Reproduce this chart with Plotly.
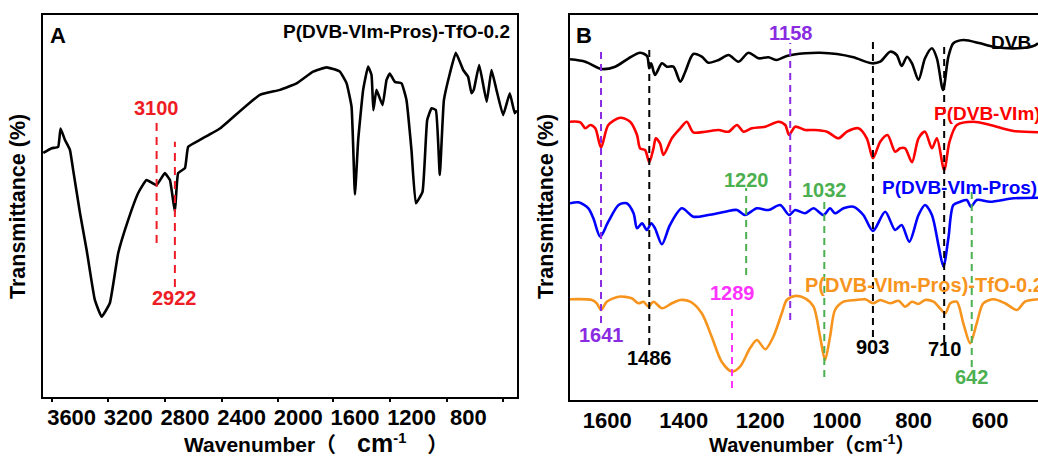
import plotly.graph_objects as go

# ---------------- Panel A data ----------------
A_wn = [3800, 3741, 3695, 3678, 3647, 3612, 3589, 3541, 3494, 3436,
        3388, 3330, 3271, 3201, 3130, 3071, 3000, 2942, 2906, 2871,
        2848, 2800, 2777, 2695, 2553, 2483, 2271, 2130, 2012, 1895,
        1800, 1707, 1659, 1624, 1600, 1577, 1542, 1507, 1483, 1470,
        1448, 1405, 1377, 1354, 1318, 1271, 1236, 1201, 1170, 1123,
        1090, 1059, 1029, 1001, 972, 930, 888, 836, 801, 777,
        761, 723, 670, 636, 601, 554, 507, 472, 456]
A_T = [63.9, 65.1, 65.5, 70.3, 67.3, 64.7, 59.4, 48.2, 38.5, 25.4,
       21.0, 24.6, 37.7, 46.3, 53.4, 56.8, 55.5, 58.6, 56.8, 48.5,
       58.6, 59.9, 65.5, 67.3, 70.3, 72.5, 79.1, 80.4, 82.1, 85.2,
       86.3, 85.2, 82.1, 76.0, 53.0, 67.3, 80.4, 86.5, 84.3, 75.1,
       80.4, 76.4, 83.0, 84.7, 82.5, 82.1, 77.7, 64.7, 50.7, 53.7,
       72.5, 75.6, 75.1, 58.1, 77.7, 84.7, 90.1, 85.6, 83.8, 79.5,
       80.4, 86.9, 77.3, 85.6, 80.4, 73.8, 79.5, 74.3, 75.0]

A_peak_text = ["3100", "2922"]
A_peak_pos = [3000, 2871]
A_peak_y0 = [40.3, 28.8]
A_peak_y1 = [73.0, 66.8]
A_peak_label_y = [75.7, 25.9]
A_ticks = [3600, 3200, 2800, 2400, 2000, 1600, 1200, 800]
A_tick_marks = [3741, 3343, 2941, 2538, 2143, 1755, 1353, 951, 556]

# ---------------- Panel B data ----------------
DVB_wn = [1697, 1657, 1614, 1579, 1544, 1514, 1496, 1490, 1485, 1475,
          1457, 1444, 1427, 1409, 1396, 1375, 1353, 1336, 1309, 1283,
          1257, 1231, 1205, 1179, 1157, 1131, 1083, 1044, 1000, 957,
          909, 887, 861, 844, 831, 817, 804, 787, 770, 752,
          739, 723, 709, 696, 670, 626, 591, 530, 487, 475]
DVB_T = [340.7, 338.3, 331.0, 333.3, 341.7, 347.3, 344.0, 331.7, 336.7, 325.0,
         336.7, 333.3, 333.3, 318.3, 328.3, 346.0, 343.3, 337.3, 340.0, 345.0,
         338.3, 347.3, 341.7, 342.7, 340.0, 344.0, 346.7, 347.3, 346.0, 342.7,
         336.7, 338.3, 348.3, 345.0, 334.0, 343.3, 336.7, 320.0, 341.7, 351.7,
         341.7, 310.0, 343.3, 356.7, 360.0, 356.7, 353.3, 351.7, 354.0, 356.7]

VIm_wn = [1697, 1670, 1657, 1644, 1631, 1616, 1597, 1566, 1540, 1522,
          1514, 1501, 1490, 1479, 1473, 1462, 1453, 1431, 1409, 1392,
          1375, 1344, 1309, 1283, 1261, 1244, 1222, 1187, 1153, 1135,
          1125, 1109, 1083, 1061, 1026, 996, 974, 944, 922, 906,
          887, 868, 848, 835, 822, 804, 787, 770, 752, 739,
          720, 706, 687, 644, 600, 539, 475]
VIm_T = [278.3, 277.7, 271.7, 275.0, 271.7, 252.3, 275.0, 282.3, 278.3, 265.0,
         251.7, 250.0, 237.7, 251.7, 261.7, 256.7, 245.0, 261.7, 271.7, 278.3,
         267.7, 268.3, 270.0, 268.3, 275.0, 268.3, 271.7, 273.3, 278.3, 275.0,
         265.0, 273.3, 270.0, 270.0, 268.3, 261.7, 268.3, 271.7, 261.7, 241.7,
         258.3, 265.0, 248.3, 251.7, 251.7, 237.7, 261.7, 268.3, 251.7, 261.7,
         230.0, 258.3, 275.0, 278.3, 275.0, 269.0, 267.7]

Pros_wn = [1697, 1675, 1649, 1636, 1618, 1597, 1570, 1549, 1531, 1522,
           1509, 1496, 1485, 1475, 1457, 1436, 1405, 1375, 1336, 1292,
           1261, 1240, 1209, 1179, 1148, 1125, 1109, 1083, 1061, 1035,
           1018, 1005, 983, 957, 931, 906, 874, 848, 831, 811,
           787, 770, 752, 735, 722, 709, 696, 678, 661, 650,
           635, 600, 539, 475]
Pros_T = [196.7, 197.7, 191.7, 181.7, 163.3, 178.3, 195.0, 196.7, 186.7, 171.7,
          176.7, 170.0, 176.7, 171.7, 155.7, 175.0, 191.7, 183.3, 185.0, 188.3,
          190.0, 185.0, 191.7, 190.0, 195.0, 185.0, 190.0, 186.7, 191.7, 185.0,
          191.7, 186.7, 191.7, 193.3, 185.0, 169.0, 188.3, 170.0, 175.0, 158.3,
          185.0, 195.0, 185.0, 155.0, 133.3, 161.7, 195.0, 198.3, 200.0, 193.3,
          200.0, 198.3, 201.7, 202.3]

TfO_wn = [1697, 1640, 1627, 1616, 1601, 1570, 1536, 1518, 1505, 1492,
          1479, 1457, 1431, 1409, 1383, 1353, 1327, 1301, 1274, 1253,
          1227, 1209, 1187, 1166, 1144, 1131, 1109, 1083, 1061, 1044,
          1031, 1018, 1005, 983, 952, 926, 905, 887, 861, 839,
          822, 804, 787, 770, 748, 731, 717, 704, 687, 670,
          652, 635, 618, 591, 561, 530, 509, 475]
TfO_T = [100.7, 100.0, 96.7, 90.0, 98.3, 103.3, 101.7, 96.7, 98.3, 93.3,
         98.3, 91.7, 96.7, 100.0, 98.3, 86.7, 63.3, 38.3, 28.3, 33.3,
         51.7, 60.0, 50.7, 63.3, 86.7, 100.0, 104.0, 101.7, 93.3, 63.3,
         40.0, 63.3, 90.0, 98.3, 100.0, 100.7, 96.7, 100.0, 96.7, 99.3,
         93.3, 98.3, 96.0, 100.0, 98.3, 91.7, 86.7, 96.7, 98.3, 76.7,
         56.7, 76.7, 96.7, 100.7, 96.7, 90.0, 98.3, 100.7]

B_series_names = ["DVB", "P(DVB-VIm)", "P(DVB-VIm-Pros)", "P(DVB-VIm-Pros)-TfO-0.2"]
B_series_colors = ["#000000", "#ff0000", "#0000ff", "#f7941d"]
B_name_size = [19, 19, 19, 20]
B_name_pos = [989, 932, 880, 803]      # label start, px
B_name_y = [358, 287, 213, 115]        # label centre in y units

B_peak_text = ["1641", "1486", "1158", "903", "710", "642", "1289", "1220", "1032"]
B_peak_pos = [1616, 1490, 1122, 906, 720, 648, 1274, 1237, 1033]
B_peak_y0 = [77, 55, 80, 63, 58, 33, 12, 125, 23]
B_peak_y1 = [353, 352, 357, 362, 358, 212, 93, 212, 202]
B_peak_label_y = [65, 42, 367, 53, 51, 23, 107, 220, 210]
B_peak_colors = ["#8a2be2", "#000000", "#8a2be2", "#000000", "#000000",
                 "#4caf50", "#ff33ff", "#4caf50", "#4caf50"]
B_ticks = [1600, 1400, 1200, 1000, 800, 600]

assert len(A_wn) == len(A_T)
assert len(DVB_wn) == len(DVB_T)
assert len(VIm_wn) == len(VIm_T)
assert len(Pros_wn) == len(Pros_T)
assert len(TfO_wn) == len(TfO_T)

W, H = 1038, 459
FONT = "Liberation Sans, Arial, Noto Sans CJK SC, sans-serif"
PEAK_A_COLOR = "#ee1c25"


def px(x):
    return x / W


def py(y):
    return 1 - y / H


fig = go.Figure()

fig.add_trace(go.Scatter(x=A_wn, y=A_T, mode="lines",
                         line=dict(color="black", width=2.6, shape="spline", smoothing=0.35),
                         xaxis="x", yaxis="y", showlegend=False))

B_x = [DVB_wn, VIm_wn, Pros_wn, TfO_wn]
B_y = [DVB_T, VIm_T, Pros_T, TfO_T]
for xs, ys, c in zip(B_x, B_y, B_series_colors):
    fig.add_trace(go.Scatter(x=xs, y=ys, mode="lines",
                             line=dict(color=c, width=2.6, shape="spline", smoothing=0.8),
                             xaxis="x2", yaxis="y2", showlegend=False))

shapes = []
annotations = []

for t, xp, y0, y1, ly in zip(A_peak_text, A_peak_pos, A_peak_y0, A_peak_y1, A_peak_label_y):
    shapes.append(dict(type="line", xref="x", yref="y", x0=xp, x1=xp, y0=y0, y1=y1,
                       line=dict(color=PEAK_A_COLOR, width=2, dash="8px,6px")))
    annotations.append(dict(xref="x", yref="y", x=xp, y=ly, text=t, showarrow=False,
                            font=dict(family=FONT, size=20, color=PEAK_A_COLOR, weight="bold"),
                            xanchor="center", yanchor="middle"))

for t, xp, y0, y1, ly, c in zip(B_peak_text, B_peak_pos, B_peak_y0, B_peak_y1,
                                B_peak_label_y, B_peak_colors):
    shapes.append(dict(type="line", xref="x2", yref="y2", x0=xp, x1=xp, y0=y0, y1=y1,
                       line=dict(color=c, width=2, dash="7px,5px")))
    annotations.append(dict(xref="x2", yref="y2", x=xp, y=ly, text=t, showarrow=False,
                            font=dict(family=FONT, size=20, color=c, weight="bold"),
                            xanchor="center", yanchor="middle"))

for name, c, xs, ys, fs in zip(B_series_names, B_series_colors, B_name_pos, B_name_y, B_name_size):
    annotations.append(dict(xref="paper", yref="y2", x=px(xs), y=ys, text=name,
                            showarrow=False, xanchor="left", yanchor="middle",
                            font=dict(family=FONT, size=fs, color=c, weight="bold")))

XTITLE_A = 'Wavenumber（\u2003<span style="font-size:25px">cm</span><sup>-1</sup>\u2003）'
XTITLE_B = 'Wavenumber（cm<sup>-1</sup>）'

annotations += [
    dict(xref="paper", yref="paper", x=px(58), y=py(35), text="A", showarrow=False,
         xanchor="center", yanchor="middle", font=dict(family=FONT, size=22, color="black", weight="bold")),
    dict(xref="paper", yref="paper", x=px(584), y=py(35), text="B", showarrow=False,
         xanchor="center", yanchor="middle", font=dict(family=FONT, size=22, color="black", weight="bold")),
    dict(xref="paper", yref="paper", x=px(512), y=py(31), text="P(DVB-VIm-Pros)-TfO-0.2",
         showarrow=False, xanchor="right", yanchor="middle",
         font=dict(family=FONT, size=19, color="black", weight="bold")),
    dict(xref="paper", yref="paper", x=px(316), y=py(443), text=XTITLE_A,
         showarrow=False, xanchor="center", yanchor="middle",
         font=dict(family=FONT, size=21, color="black", weight="bold")),
    dict(xref="paper", yref="paper", x=px(812), y=py(443), text=XTITLE_B,
         showarrow=False, xanchor="center", yanchor="middle",
         font=dict(family=FONT, size=20, color="black", weight="bold")),
    dict(xref="paper", yref="paper", x=px(18), y=py(207), text="Transmittance (%)",
         showarrow=False, textangle=-90, xanchor="center", yanchor="middle",
         font=dict(family=FONT, size=21.5, color="black", weight="bold")),
    dict(xref="paper", yref="paper", x=px(546), y=py(207), text="Transmittance (%)",
         showarrow=False, textangle=-90, xanchor="center", yanchor="middle",
         font=dict(family=FONT, size=21.5, color="black", weight="bold")),
]

tickfont = dict(family=FONT, size=22, color="black", weight="bold")

fig.update_layout(
    width=W, height=H,
    margin=dict(l=0, r=0, t=0, b=0),
    paper_bgcolor="white", plot_bgcolor="white",
    shapes=shapes, annotations=annotations,
    xaxis=dict(domain=[px(43), px(517)], range=[3802, 456], anchor="y",
               tickvals=A_ticks, ticks="", tickfont=tickfont,
               minor=dict(tickvals=A_tick_marks, ticks="outside", ticklen=3,
                          tickwidth=1.5, tickcolor="black"),
               showline=True, linecolor="black", linewidth=2,
               mirror=True, showgrid=False, zeroline=False),
    yaxis=dict(domain=[py(397), py(15)], range=[0, 100], anchor="x",
               showticklabels=False, ticks="", showline=True, linecolor="black",
               linewidth=2, mirror=True, showgrid=False, zeroline=False),
    xaxis2=dict(domain=[px(570), 1.0], range=[1697, 475], anchor="y2",
                tickvals=B_ticks, ticks="", tickfont=tickfont,
                showline=True, linecolor="black", linewidth=2,
                mirror=True, showgrid=False, zeroline=False),
    yaxis2=dict(domain=[py(400), py(15)], range=[0, 385], anchor="x2",
                showticklabels=False, ticks="", showline=True, linecolor="black",
                linewidth=2, mirror=False, showgrid=False, zeroline=False),
)

fig.write_html("out.html")
